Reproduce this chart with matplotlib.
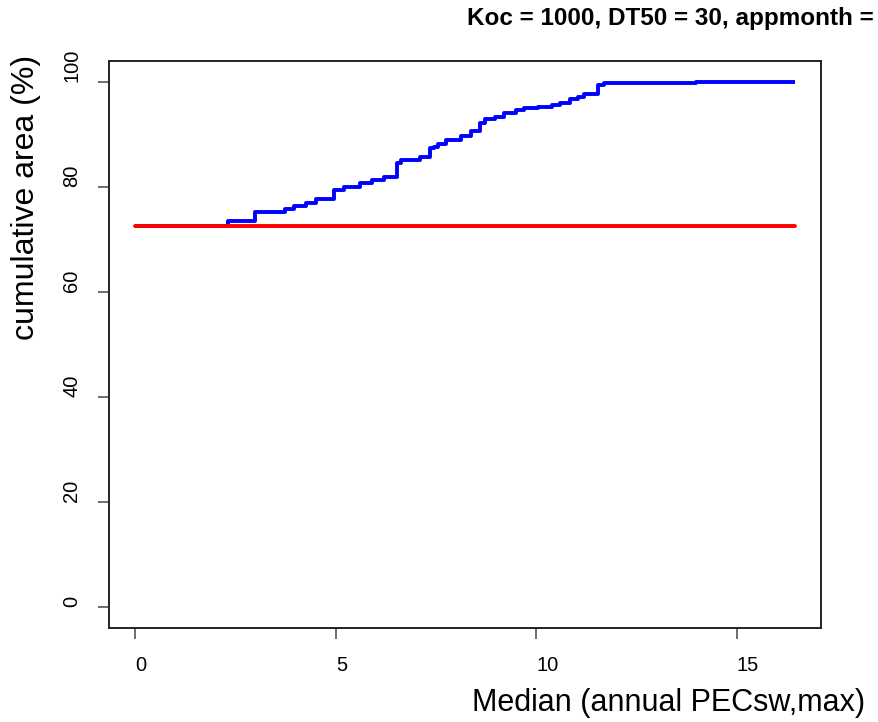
import matplotlib
matplotlib.use("Agg")
import matplotlib.pyplot as plt

plt.rcParams['font.family'] = ['Liberation Sans', 'DejaVu Sans']

# Blue cumulative curve (step breakpoints)
blue_x = [0, 2.32, 2.99, 3.74, 3.95, 4.25, 4.5, 4.95, 5.2, 5.6, 5.9, 6.2, 6.53,
          6.62, 7.1, 7.36, 7.45, 7.56, 7.76, 8.13, 8.38, 8.6, 8.73, 8.98, 9.2,
          9.5, 9.7, 10.05, 10.4, 10.6, 10.85, 11.05, 11.2, 11.55, 11.7, 14.0, 16.45]
blue_y = [72.6, 73.5, 75.2, 75.8, 76.3, 76.9, 77.7, 79.4, 80.0, 80.7, 81.3, 81.9, 84.5,
          85.2, 85.7, 87.4, 87.7, 88.2, 88.9, 89.7, 90.6, 92.2, 92.9, 93.3, 94.1,
          94.7, 95.0, 95.2, 95.6, 96.0, 96.8, 97.1, 97.7, 99.4, 99.8, 100.0, 100.0]
# Red reference line
red_x = [0, 16.45]
red_y = [72.6, 72.6]

x_ticks = [0, 5, 10, 15]
y_ticks = [0, 20, 40, 60, 80, 100]

title = "Koc = 1000, DT50 = 30, appmonth ="
xlabel = "Median (annual PECsw,max)"
ylabel = "cumulative area (%)"

fig = plt.figure(figsize=(8.79, 7.22), dpi=100)
ax = fig.add_axes([109/879, 1-628/722, (821-109)/879, (628-61)/722])

ax.plot(blue_x, blue_y, color='#0000FF', lw=2.8, drawstyle='steps-post',
        solid_joinstyle='round', solid_capstyle='butt')
ax.plot(red_x, red_y, color='#FF0000', lw=2.8, solid_capstyle='round')

xmax = max(blue_x)
ax.set_xlim(-0.04 * xmax, xmax * 1.04)
ax.set_ylim(-4, 104)
ax.set_xticks(x_ticks)
ax.set_xticklabels([str(v) for v in x_ticks], ha='left', va='top')
ax.set_yticks(y_ticks)
ax.set_yticklabels([str(v) for v in y_ticks], rotation=90, ha='right', va='bottom')
ax.tick_params(axis='both', direction='out', length=8, width=1.2, labelsize=14.5,
               color='#555555')
ax.tick_params(axis='x', pad=12)
ax.tick_params(axis='y', pad=12)
for s in ax.spines.values():
    s.set_linewidth(1.4)
    s.set_color('#222222')

fig.text(467/879, 1-18/722, title, fontsize=17.5, fontweight='bold',
         ha='left', va='center')
fig.text(865/879, 1-703/722, xlabel, fontsize=22, ha='right', va='center')
fig.text(26/879, 1-197/722, ylabel, fontsize=23, rotation=90,
         ha='center', va='center')

fig.savefig('out.png', dpi=100)
